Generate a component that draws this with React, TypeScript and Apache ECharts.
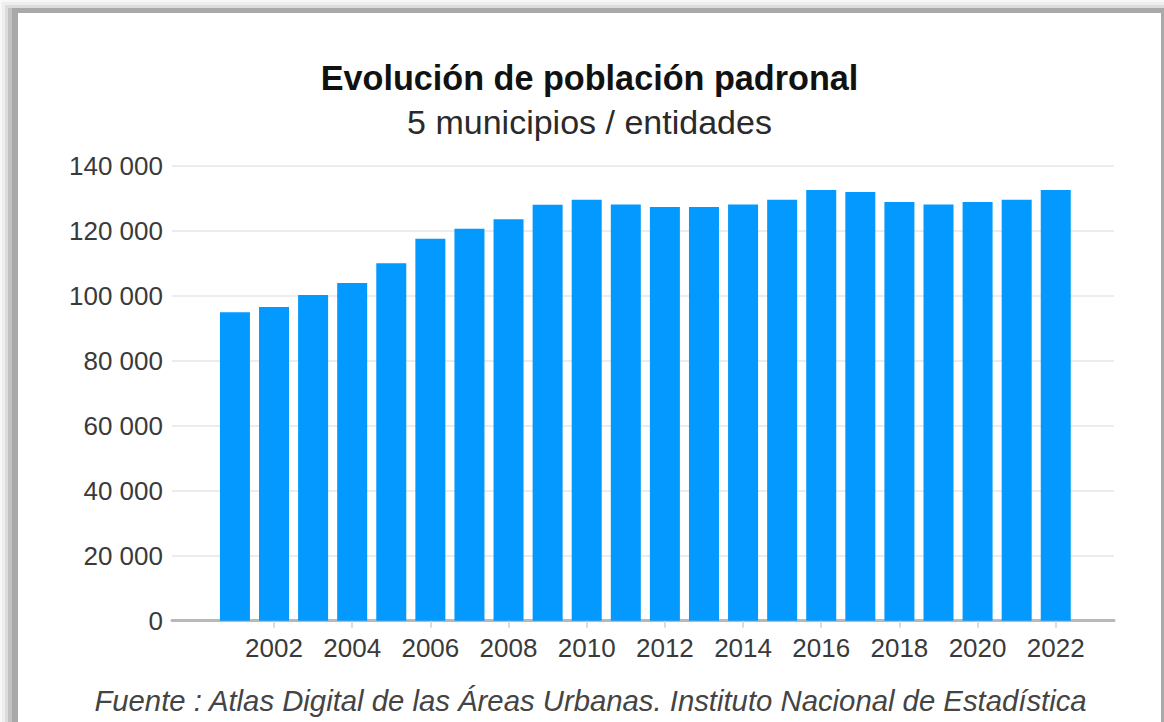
import React, { useEffect, useRef } from "react";
import * as echarts from "echarts";

const years = [2001, 2002, 2003, 2004, 2005, 2006, 2007, 2008, 2009, 2010, 2011, 2012, 2013, 2014, 2015, 2016, 2017, 2018, 2019, 2020, 2021, 2022];
const population = [94900, 96500, 100200, 103900, 110000, 117500, 120600, 123500, 128000, 129500, 128100, 127300, 127300, 128100, 129500, 132500, 131900, 128800, 128100, 128800, 129500, 132500];
const xTickYears = [2002, 2004, 2006, 2008, 2010, 2012, 2014, 2016, 2018, 2020, 2022];
const yTicks = [0, 20000, 40000, 60000, 80000, 100000, 120000, 140000];

const titleText = "Evolución de población padronal";
const subtitleText = "5 municipios / entidades";
const sourceText = "Fuente : Atlas Digital de las Áreas Urbanas. Instituto Nacional de Estadística";

const FONT = "'Liberation Sans', Arial, Helvetica, sans-serif";

function fmt(v: number): string {
  return String(v).replace(/\B(?=(\d{3})+(?!\d))/g, " ");
}

export default function App() {
  const ref = useRef<HTMLDivElement>(null);

  useEffect(() => {
    if (!ref.current) return;
    const chart = echarts.init(ref.current, undefined, { renderer: "svg" });
    const W = 1143;
    chart.setOption({
      animation: false,
      backgroundColor: "#ffffff",
      grid: { left: 154, right: 47, top: 152.7, bottom: 101.3, containLabel: false },
      xAxis: {
        type: "value",
        min: 1999.39,
        max: 2023.49,
        splitLine: { show: false },
        axisLine: { show: true, lineStyle: { color: "#b8b8b8", width: 3 } },
        axisTick: {
          show: true,
          customValues: xTickYears,
          length: 7,
          lineStyle: { color: "#d0d0d0", width: 1.5 },
        },
        axisLabel: {
          customValues: xTickYears,
          formatter: (v: number) => String(v),
          fontFamily: FONT,
          fontSize: 26,
          color: "#3a3a3a",
          margin: 14,
        },
      },
      yAxis: {
        type: "value",
        min: yTicks[0],
        max: yTicks[yTicks.length - 1],
        interval: yTicks[1] - yTicks[0],
        axisLine: { show: false },
        axisTick: { show: false },
        splitLine: { show: true, lineStyle: { color: "#e6e6e6", width: 1.5 } },
        axisLabel: {
          formatter: (v: number) => fmt(v),
          fontFamily: FONT,
          fontSize: 26,
          color: "#3a3a3a",
          margin: 9,
        },
      },
      series: [
        {
          type: "bar",
          data: years.map((y, i) => [y, population[i]]),
          barWidth: 30,
          itemStyle: { color: "#0399fe" },
          z: 1,
        },
      ],
      graphic: [
        {
          type: "text",
          x: W / 2,
          y: 65,
          style: {
            text: titleText,
            fontFamily: FONT,
            fontSize: 34.2,
            fontWeight: "bold",
            fill: "#111111",
            align: "center",
            verticalAlign: "middle",
          },
        },
        {
          type: "text",
          x: W / 2,
          y: 109,
          style: {
            text: subtitleText,
            fontFamily: FONT,
            fontSize: 34,
            fill: "#2a2a2a",
            align: "center",
            verticalAlign: "middle",
          },
        },
        {
          type: "text",
          x: W / 2 + 1,
          y: 687,
          style: {
            text: sourceText,
            fontFamily: FONT,
            fontSize: 29.3,
            fontStyle: "italic",
            fill: "#444444",
            align: "center",
            verticalAlign: "middle",
          },
        },
      ],
    });
    return () => chart.dispose();
  }, []);

  const layer = (l: number, t: number, bg: string): React.CSSProperties => ({
    position: "absolute",
    left: l,
    top: t,
    right: 0,
    bottom: 0,
    background: bg,
  });

  return (
    <div style={{ position: "fixed", left: 0, top: 0, width: 1164, height: 722, overflow: "hidden", background: "#ffffff" }}>
      <div style={layer(0, 0, "#f8f8f8")} />
      <div style={layer(2, 2, "#eeeeee")} />
      <div style={layer(5, 5, "#dddddd")} />
      <div style={layer(8, 8, "#c2c2c2")} />
      <div style={layer(12, 8, "#a9a9a9")} />
      <div
        ref={ref}
        style={{ position: "absolute", left: 18, top: 13, width: 1143, height: 709 }}
      />
    </div>
  );
}
